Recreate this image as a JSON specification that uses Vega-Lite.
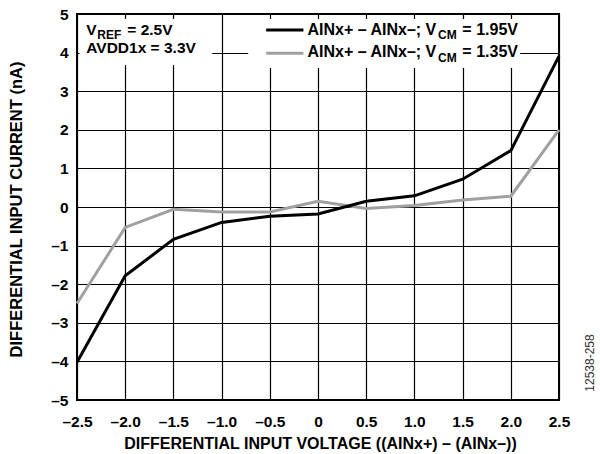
{
  "$schema": "https://vega.github.io/schema/vega-lite/v6.json",
  "width": 482,
  "height": 386,
  "autosize": {"type": "none"},
  "padding": {"left": 77, "top": 14, "right": 41, "bottom": 54},
  "background": "white",
  "config": {"view": {"stroke": "black", "strokeWidth": 2}, "font": "Liberation Sans"},
  "data": {"values": [{}]},
  "resolve": {"axis": {"x": "independent", "y": "independent"}},
  "layer": [
    {
      "data": {"values": [
        {"v": -2.5, "i": -2.50, "vcm": "1.35V"},
        {"v": -2.0, "i": -0.53, "vcm": "1.35V"},
        {"v": -1.5, "i": -0.06, "vcm": "1.35V"},
        {"v": -1.0, "i": -0.13, "vcm": "1.35V"},
        {"v": -0.5, "i": -0.13, "vcm": "1.35V"},
        {"v": 0.0, "i": 0.15, "vcm": "1.35V"},
        {"v": 0.5, "i": -0.04, "vcm": "1.35V"},
        {"v": 1.0, "i": 0.04, "vcm": "1.35V"},
        {"v": 1.5, "i": 0.18, "vcm": "1.35V"},
        {"v": 2.0, "i": 0.28, "vcm": "1.35V"},
        {"v": 2.5, "i": 2.00, "vcm": "1.35V"},
        {"v": -2.5, "i": -4.02, "vcm": "1.95V"},
        {"v": -2.0, "i": -1.78, "vcm": "1.95V"},
        {"v": -1.5, "i": -0.84, "vcm": "1.95V"},
        {"v": -1.0, "i": -0.40, "vcm": "1.95V"},
        {"v": -0.5, "i": -0.24, "vcm": "1.95V"},
        {"v": 0.0, "i": -0.18, "vcm": "1.95V"},
        {"v": 0.5, "i": 0.15, "vcm": "1.95V"},
        {"v": 1.0, "i": 0.29, "vcm": "1.95V"},
        {"v": 1.5, "i": 0.72, "vcm": "1.95V"},
        {"v": 2.0, "i": 1.46, "vcm": "1.95V"},
        {"v": 2.5, "i": 3.91, "vcm": "1.95V"}
      ]},
      "mark": {"type": "line", "strokeWidth": 3},
      "encoding": {
        "x": {
          "field": "v", "type": "quantitative",
          "scale": {"domain": [-2.5, 2.5], "nice": false, "zero": false},
          "axis": {
            "values": [-2.5, -2, -1.5, -1, -0.5, 0, 0.5, 1, 1.5, 2, 2.5],
            "grid": true, "gridColor": "#000000", "gridWidth": 1.2, "gridOpacity": 1,
            "domain": false, "ticks": false,
            "labelFont": "Liberation Sans", "labelFontWeight": "bold", "labelFontSize": 15.5,
            "labelColor": "#000000", "labelPadding": 26, "labelBaseline": "alphabetic",
            "labelFlush": false, "labelOverlap": false,
            "labelExpr": "datum.value == 0 ? '0' : (datum.value < 0 ? '–' : '') + format(abs(datum.value), '.1f')",
            "title": "DIFFERENTIAL INPUT VOLTAGE ((AINx+) – (AINx–))",
            "titleFont": "Liberation Sans", "titleFontWeight": "bold", "titleFontSize": 16,
            "titleColor": "#000000", "titleBaseline": "alphabetic", "titleAlign": "center",
            "titleX": 243, "titleY": 48
          }
        },
        "y": {
          "field": "i", "type": "quantitative",
          "scale": {"domain": [-5, 5], "nice": false, "zero": false},
          "axis": {
            "tickCount": 10,
            "grid": true, "gridColor": "#000000", "gridWidth": 1.2, "gridOpacity": 1,
            "domain": false, "ticks": false,
            "labelFont": "Liberation Sans", "labelFontWeight": "bold", "labelFontSize": 15.5,
            "labelColor": "#000000", "labelPadding": 9, "labelBaseline": "middle",
            "labelFlush": false, "labelOverlap": false,
            "labelExpr": "(datum.value < 0 ? '–' : '') + format(abs(datum.value), 'd')",
            "title": "DIFFERENTIAL INPUT CURRENT (nA)",
            "titleFont": "Liberation Sans", "titleFontWeight": "bold", "titleFontSize": 16.5,
            "titleColor": "#000000", "titleAngle": -90, "titleBaseline": "alphabetic",
            "titleAlign": "center", "titleX": -56, "titleY": 195
          }
        },
        "color": {
          "field": "vcm", "type": "nominal",
          "scale": {"domain": ["1.35V", "1.95V"], "range": ["#a0a0a0", "#000000"]},
          "legend": null
        }
      }
    },
    {
      "mark": {"type": "rect", "fill": "white"},
      "encoding": {
        "x": {"datum": -2.474, "type": "quantitative", "axis": null},
        "x2": {"datum": -1.097},
        "y": {"datum": 4.87, "type": "quantitative", "axis": null},
        "y2": {"datum": 3.68}
      }
    },
    {
      "mark": {"type": "rect", "fill": "white"},
      "encoding": {
        "x": {"datum": -0.724, "type": "quantitative", "axis": null},
        "x2": {"datum": 2.097},
        "y": {"datum": 4.87, "type": "quantitative", "axis": null},
        "y2": {"datum": 3.6}
      }
    },
    {
      "mark": {"type": "rule", "stroke": "#000000", "strokeWidth": 3},
      "encoding": {
        "x": {"datum": -0.5376, "type": "quantitative", "axis": null},
        "x2": {"datum": -0.151},
        "y": {"datum": 4.585, "type": "quantitative", "axis": null}
      }
    },
    {
      "mark": {"type": "rule", "stroke": "#a0a0a0", "strokeWidth": 3},
      "encoding": {
        "x": {"datum": -0.5376, "type": "quantitative", "axis": null},
        "x2": {"datum": -0.151},
        "y": {"datum": 3.982, "type": "quantitative", "axis": null}
      }
    },
    {
      "mark": {"type": "text", "text": "V", "align": "left", "baseline": "alphabetic", "font": "Liberation Sans", "fontWeight": "bold", "fontSize": 15.5, "fill": "#000000"},
      "encoding": {"x": {"datum": -2.4036, "type": "quantitative", "axis": null}, "y": {"datum": 4.456, "type": "quantitative", "axis": null}}
    },
    {
      "mark": {"type": "text", "text": "REF", "align": "left", "baseline": "alphabetic", "font": "Liberation Sans", "fontWeight": "bold", "fontSize": 12, "fill": "#000000"},
      "encoding": {"x": {"datum": -2.289, "type": "quantitative", "axis": null}, "y": {"datum": 4.365, "type": "quantitative", "axis": null}}
    },
    {
      "mark": {"type": "text", "text": "= 2.5V", "align": "left", "baseline": "alphabetic", "font": "Liberation Sans", "fontWeight": "bold", "fontSize": 15.5, "fill": "#000000"},
      "encoding": {"x": {"datum": -1.9785, "type": "quantitative", "axis": null}, "y": {"datum": 4.456, "type": "quantitative", "axis": null}}
    },
    {
      "mark": {"type": "text", "text": "AVDD1x = 3.3V", "align": "left", "baseline": "alphabetic", "font": "Liberation Sans", "fontWeight": "bold", "fontSize": 15.5, "fill": "#000000"},
      "encoding": {"x": {"datum": -2.4036, "type": "quantitative", "axis": null}, "y": {"datum": 3.982, "type": "quantitative", "axis": null}}
    },
    {
      "mark": {"type": "text", "text": "AINx+ – AINx–; V", "align": "left", "baseline": "alphabetic", "font": "Liberation Sans", "fontWeight": "bold", "fontSize": 16, "fill": "#000000"},
      "encoding": {"x": {"datum": -0.1094, "type": "quantitative", "axis": null}, "y": {"datum": 4.456, "type": "quantitative", "axis": null}}
    },
    {
      "mark": {"type": "text", "text": "CM", "align": "left", "baseline": "alphabetic", "font": "Liberation Sans", "fontWeight": "bold", "fontSize": 12, "fill": "#000000"},
      "encoding": {"x": {"datum": 1.2445, "type": "quantitative", "axis": null}, "y": {"datum": 4.352, "type": "quantitative", "axis": null}}
    },
    {
      "mark": {"type": "text", "text": "= 1.95V", "align": "left", "baseline": "alphabetic", "font": "Liberation Sans", "fontWeight": "bold", "fontSize": 16, "fill": "#000000"},
      "encoding": {"x": {"datum": 1.4975, "type": "quantitative", "axis": null}, "y": {"datum": 4.456, "type": "quantitative", "axis": null}}
    },
    {
      "mark": {"type": "text", "text": "AINx+ – AINx–; V", "align": "left", "baseline": "alphabetic", "font": "Liberation Sans", "fontWeight": "bold", "fontSize": 16, "fill": "#000000"},
      "encoding": {"x": {"datum": -0.1094, "type": "quantitative", "axis": null}, "y": {"datum": 3.878, "type": "quantitative", "axis": null}}
    },
    {
      "mark": {"type": "text", "text": "CM", "align": "left", "baseline": "alphabetic", "font": "Liberation Sans", "fontWeight": "bold", "fontSize": 12, "fill": "#000000"},
      "encoding": {"x": {"datum": 1.2445, "type": "quantitative", "axis": null}, "y": {"datum": 3.769, "type": "quantitative", "axis": null}}
    },
    {
      "mark": {"type": "text", "text": "= 1.35V", "align": "left", "baseline": "alphabetic", "font": "Liberation Sans", "fontWeight": "bold", "fontSize": 16, "fill": "#000000"},
      "encoding": {"x": {"datum": 1.4975, "type": "quantitative", "axis": null}, "y": {"datum": 3.878, "type": "quantitative", "axis": null}}
    },
    {
      "mark": {"type": "text", "text": "12538-258", "angle": 270, "align": "center", "baseline": "middle", "font": "Liberation Sans", "fontSize": 12, "fill": "#333333"},
      "encoding": {"x": {"datum": 2.8214, "type": "quantitative", "axis": null}, "y": {"datum": -4.041, "type": "quantitative", "axis": null}}
    }
  ]
}
